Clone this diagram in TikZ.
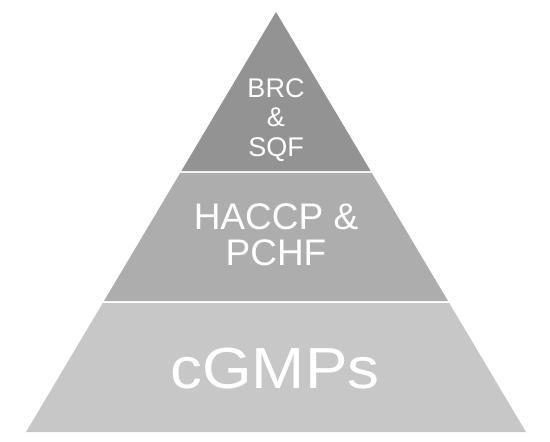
\documentclass[tikz,border=0pt]{standalone}
\usepackage{fontspec}
\setmainfont{Liberation Sans}
\usetikzlibrary{calc}
\definecolor{capaalta}{HTML}{939393}
\definecolor{capamedia}{HTML}{ADADAD}
\definecolor{capabaja}{HTML}{C7C7C7}

\begin{document}
\begin{tikzpicture}[x=1pt, y=-1pt,
    etiqueta/.style={text=white, align=center, inner sep=0pt}] % y hacia abajo, en píxeles
\useasboundingbox (0,0) rectangle (550,442);
\coordinate (cima) at (276,12);
\coordinate (izq) at (26,432);
\coordinate (der) at (526,432);
\fill[capaalta] (cima) -- ($(cima)!0.3786!(izq)$) -- ($(cima)!0.3786!(der)$) -- cycle;
\fill[capamedia] ($(cima)!0.3833!(izq)$) -- ($(cima)!0.6881!(izq)$)
    -- ($(cima)!0.6881!(der)$) -- ($(cima)!0.3833!(der)$) -- cycle;
\fill[capabaja] ($(cima)!0.6929!(izq)$) -- (izq) -- (der) -- ($(cima)!0.6929!(der)$) -- cycle;
\node[etiqueta, font=\fontsize{27}{29.5}\selectfont] (brc) at (276,120) {BRC\\\&\\SQF};
\node[etiqueta, font=\fontsize{37}{36.5}\selectfont] (haccp) at (276,235) {HACCP \&\\PCHF};
\node[etiqueta, font=\fontsize{58}{60}\selectfont, anchor=base, xscale=1.1] (cgmp) at (275,388) {cGMPs};
\end{tikzpicture}
\end{document}
